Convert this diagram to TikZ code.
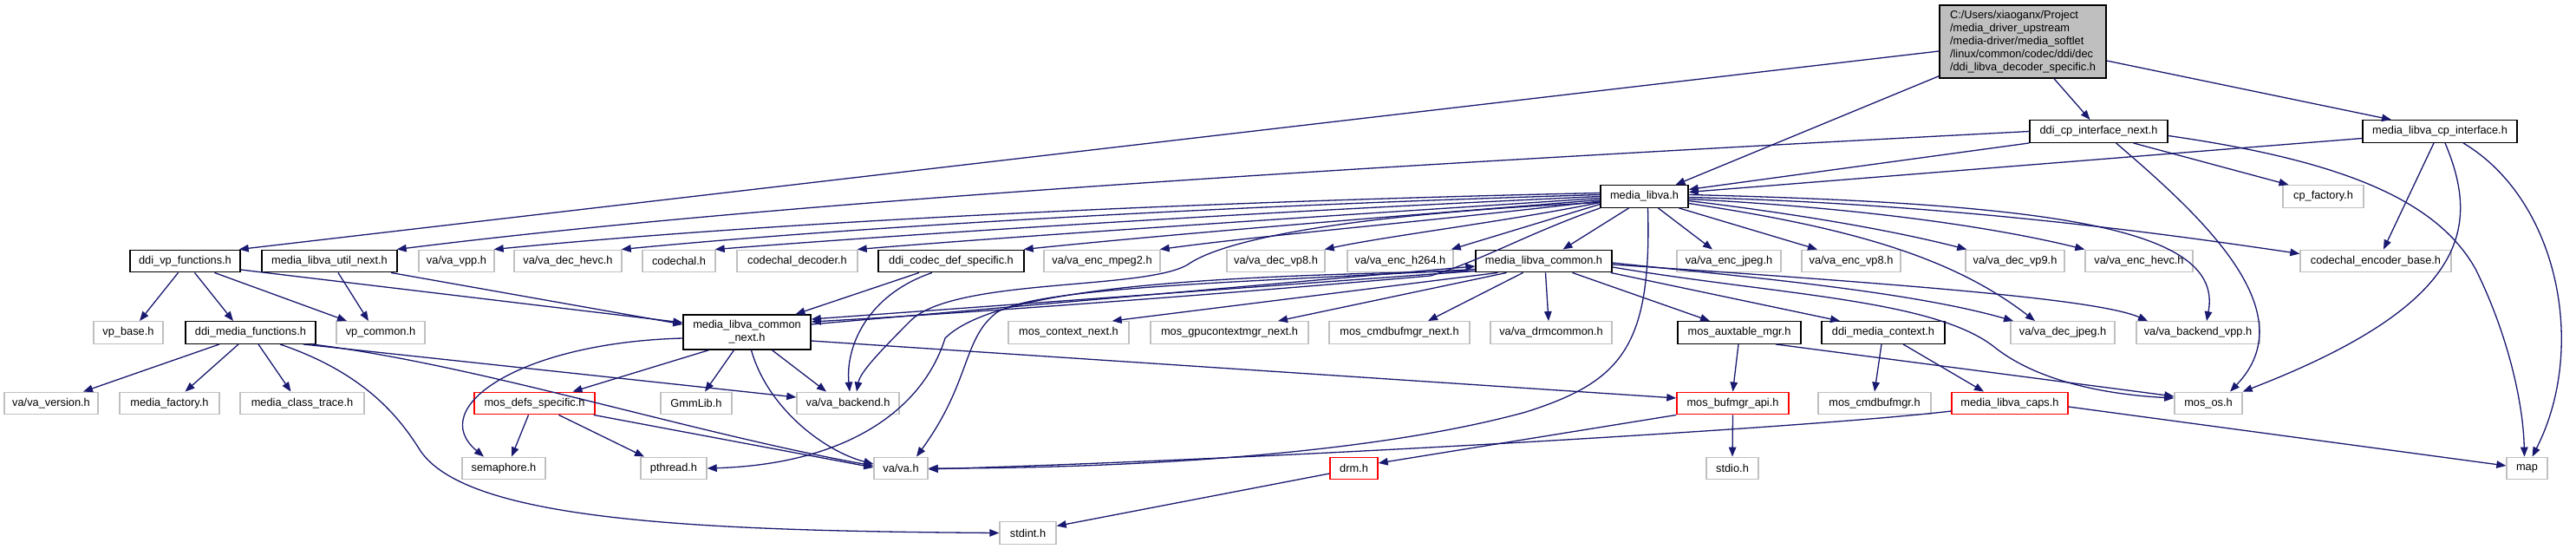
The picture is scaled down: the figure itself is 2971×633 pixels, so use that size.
\documentclass[tikz,border=0pt]{standalone}
\usepackage{fontspec}
\setmainfont{Liberation Sans}
\usetikzlibrary{arrows.meta}
\definecolor{edgec}{HTML}{191970}
\definecolor{greyc}{HTML}{C0C0C0}
\definecolor{redc}{HTML}{FF0000}
\definecolor{rootfill}{HTML}{BFBFBF}
\newcommand{\nodefont}{\fontsize{12.8bp}{14.85bp}\selectfont}
\begin{document}
\begin{tikzpicture}[x=1bp,y=-1bp,
  box/.style={rectangle, inner sep=0pt, minimum height=25.5bp, font=\nodefont, fill=white, line width=1.4bp},
  bk/.style={box, draw=black},
  gy/.style={box, draw=greyc},
  rd/.style={box, draw=redc},
  e/.style={draw=edgec, line width=1.3bp, -{Triangle[length=11bp,width=8.5bp]}},
]
\fill[white] (0,0) rectangle (2971,633);
\useasboundingbox (0,0) rectangle (2971,633);

% ---------- nodes ----------
\node[bk, fill=rootfill, minimum width=192bp, minimum height=84bp, align=left] (root) at (2333,48)
  {C:/Users/xiaoganx/Project\\/media\_driver\_upstream\\/media-driver/media\_softlet\\/linux/common/codec/ddi/dec\\/ddi\_libva\_decoder\_specific.h};
\node[bk, minimum width=159bp] (cpnext) at (2420.5,151.5) {ddi\_cp\_interface\_next.h};
\node[bk, minimum width=178bp] (cpif) at (2814,151.5) {media\_libva\_cp\_interface.h};
\node[bk, minimum width=101bp] (libva) at (1896.5,226.5) {media\_libva.h};
\node[gy, minimum width=93bp] (cpfactory) at (2679.5,226.5) {cp\_factory.h};

% row 3
\node[bk, minimum width=127bp] (vpfunc) at (213.5,301) {ddi\_vp\_functions.h};
\node[bk, minimum width=156bp] (utilnext) at (380,301) {media\_libva\_util\_next.h};
\node[gy, minimum width=87bp] (vavpp) at (526.5,301) {va/va\_vpp.h};
\node[gy, minimum width=124bp] (decHevc) at (655,301) {va/va\_dec\_hevc.h};
\node[gy, minimum width=84bp] (codechal) at (783,301) {codechal.h};
\node[gy, minimum width=139bp] (codecdec) at (919.5,301) {codechal\_decoder.h};
\node[bk, minimum width=168bp] (codecdef) at (1097,301) {ddi\_codec\_def\_specific.h};
\node[gy, minimum width=134bp] (encMpeg2) at (1271,301) {va/va\_enc\_mpeg2.h};
\node[gy, minimum width=113bp] (decVp8) at (1471.5,301) {va/va\_dec\_vp8.h};
\node[gy, minimum width=122bp] (encH264) at (1615,301) {va/va\_enc\_h264.h};
\node[bk, minimum width=157bp] (common) at (1780.5,301) {media\_libva\_common.h};
\node[gy, minimum width=120bp] (encJpeg) at (1994,301) {va/va\_enc\_jpeg.h};
\node[gy, minimum width=114bp] (encVp8) at (2135,301) {va/va\_enc\_vp8.h};
\node[gy, minimum width=114bp] (decVp9) at (2324,301) {va/va\_dec\_vp9.h};
\node[gy, minimum width=124bp] (encHevc) at (2467,301) {va/va\_enc\_hevc.h};
\node[gy, minimum width=174bp] (encbase) at (2740,301) {codechal\_encoder\_base.h};

% row 4
\node[gy, minimum width=80bp] (vpbase) at (148,383.5) {vp\_base.h};
\node[bk, minimum width=150bp] (mediafunc) at (289,383.5) {ddi\_media\_functions.h};
\node[gy, minimum width=102bp] (vpcommon) at (439,383.5) {vp\_common.h};
\node[bk, minimum width=147bp, minimum height=40bp, align=center] (commonnext) at (861.5,383) {media\_libva\_common\\\_next.h};
\node[gy, minimum width=139bp] (ctxnext) at (1232.5,383.5) {mos\_context\_next.h};
\node[gy, minimum width=182bp] (gpunext) at (1418,383.5) {mos\_gpucontextmgr\_next.h};
\node[gy, minimum width=162bp] (cmdnext) at (1614,383.5) {mos\_cmdbufmgr\_next.h};
\node[gy, minimum width=140bp] (drmcommon) at (1789,383.5) {va/va\_drmcommon.h};
\node[bk, minimum width=142bp] (auxtable) at (2006,383.5) {mos\_auxtable\_mgr.h};
\node[bk, minimum width=142bp] (mediactx) at (2172,383.5) {ddi\_media\_context.h};
\node[gy, minimum width=120bp] (decJpeg) at (2379,383.5) {va/va\_dec\_jpeg.h};
\node[gy, minimum width=142bp] (backendvpp) at (2535,383.5) {va/va\_backend\_vpp.h};

% row 5
\node[gy, minimum width=108bp] (vaversion) at (59,465) {va/va\_version.h};
\node[gy, minimum width=115bp] (factory) at (195.5,465) {media\_factory.h};
\node[gy, minimum width=143bp] (classtrace) at (348.5,465) {media\_class\_trace.h};
\node[rd, minimum width=139bp] (defsspec) at (616.5,465) {mos\_defs\_specific.h};
\node[gy, minimum width=82bp] (gmmlib) at (803,465) {GmmLib.h};
\node[gy, minimum width=118bp] (backend) at (978,465) {va/va\_backend.h};
\node[rd, minimum width=129bp] (bufmgr) at (1998.5,465) {mos\_bufmgr\_api.h};
\node[gy, minimum width=130bp] (cmdbuf) at (2162,465) {mos\_cmdbufmgr.h};
\node[rd, minimum width=134bp] (caps) at (2318,465) {media\_libva\_caps.h};
\node[gy, minimum width=78bp] (mosos) at (2547,465) {mos\_os.h};

% row 6
\node[gy, minimum width=96bp] (semaphore) at (581,540) {semaphore.h};
\node[gy, minimum width=76bp] (pthread) at (777,540) {pthread.h};
\node[gy, minimum width=62bp] (vah) at (1039,540) {va/va.h};
\node[rd, minimum width=55bp] (drm) at (1561.5,540) {drm.h};
\node[gy, minimum width=60bp] (stdio) at (1998,540) {stdio.h};
\node[gy, minimum width=47bp] (map) at (2914.5,540) {map};

% row 7
\node[gy, minimum width=65bp] (stdint) at (1185.5,614.5) {stdint.h};

% ---------- edges ----------
% root
\draw[e] ([yshift=-11bp]root.west) -- ([xshift=-2bp]vpfunc.north east);
\draw[e] ([yshift=3bp]root.south west) -- ([xshift=36bp]libva.north);
\draw[e] ([xshift=36bp]root.south) -- ([xshift=-10bp]cpnext.north);
\draw[e] ([yshift=-22bp]root.east) -- ([xshift=-56bp]cpif.north);

% ddi_cp_interface_next.h
\draw[e] (cpnext.south west) -- ([yshift=8bp]libva.east);
\draw[e] (cpnext.west) .. controls (1600,190) and (900,232) .. ([xshift=-1bp]utilnext.north east);
\draw[e] ([xshift=40bp]cpnext.south) -- ([xshift=-40bp]cpfactory.north);
\draw[e] ([xshift=20bp]cpnext.south) .. controls (2540,250) and (2660,360) .. ([xshift=25bp]mosos.north);
\draw[e] ([yshift=-5bp]cpnext.east) .. controls (2700,185) and (2810,230) .. (2855,310)
   .. controls (2890,380) and (2910,460) .. ([xshift=-3bp]map.north);

% media_libva_cp_interface.h
\draw[e] ([yshift=-8bp]cpif.west) -- ([yshift=5bp]libva.east);
\draw[e] ([xshift=-7bp]cpif.south) -- ([xshift=9bp]encbase.north);
\draw[e] ([xshift=6bp]cpif.south) .. controls (2860,260) and (2850,350) .. (mosos.north east);
\draw[e] ([xshift=27bp]cpif.south) .. controls (2950,230) and (2985,400) .. ([xshift=6bp]map.north);

% media_libva.h
\draw[e] ([yshift=4bp]libva.west) .. controls (1400,232) and (900,255) .. ([xshift=-1bp]vavpp.north east);
\draw[e] ([yshift=2bp]libva.west) .. controls (1450,236) and (1000,260) .. ([xshift=-1bp]decHevc.north east);
\draw[e] (libva.west) .. controls (1500,242) and (1100,266) .. ([xshift=-1bp]codechal.north east);
\draw[e] ([yshift=-2bp]libva.west) .. controls (1550,248) and (1200,270) .. ([xshift=-1bp]codecdec.north east);
\draw[e] ([yshift=-4bp]libva.west) .. controls (1600,250) and (1350,270) .. ([xshift=-1bp]codecdef.north east);
\draw[e] ([yshift=-5.5bp]libva.west) .. controls (1650,255) and (1450,272) .. ([xshift=-1bp]encMpeg2.north east);
\draw[e] ([yshift=-7bp]libva.west) .. controls (1740,255) and (1600,272) .. ([xshift=-1bp]decVp8.north east);
\draw[e] ([yshift=-9bp]libva.west) -- ([xshift=-3bp]encH264.north east);
\draw[e] ([xshift=-18bp]libva.south) -- ([xshift=22bp]common.north);
\draw[e] ([xshift=16bp]libva.south) -- ([xshift=-19bp]encJpeg.north);
\draw[e] ([xshift=40bp]libva.south) -- ([xshift=-39bp]encVp8.north);
\draw[e] ([yshift=-5bp]libva.east) .. controls (2100,250) and (2200,270) .. ([xshift=2bp]decVp9.north west);
\draw[e] ([yshift=-3bp]libva.east) .. controls (2150,240) and (2300,262) .. (encHevc.north west);
\draw[e] ([yshift=-1bp]libva.east) .. controls (2250,235) and (2500,270) .. ([yshift=-5bp]encbase.north west);
\draw[e] ([yshift=-8bp]libva.east) .. controls (2130,262) and (2250,295) .. ([xshift=-32bp]decJpeg.north);
\draw[e] ([yshift=2bp]libva.east) .. controls (2380,235) and (2565,265) .. ([xshift=10bp]backendvpp.north);
\draw[e] ([xshift=4bp]libva.south) .. controls (1905,400) and (1870,440) .. (1760,475)
   .. controls (1560,530) and (1250,540) .. (vah.east);
\draw[e] ([yshift=-7bp]libva.west) .. controls (1600,245) and (1420,270) .. (1370,305)
   .. controls (1320,335) and (1100,320) .. (1050,370)
   .. controls (1010,410) and (992,430) .. ([xshift=10bp]backend.north);
\draw[e] (libva.south west) .. controls (1760,270) and (1710,300) .. (1650,318)
   .. controls (1400,340) and (1100,362) .. ([yshift=12bp]commonnext.east);

% media_libva_common.h
\draw[e] ([yshift=2bp]common.south west) -- ([yshift=15bp]commonnext.east);
\draw[e] ([yshift=9bp]commonnext.east) -- ([yshift=-6bp]common.west);
\draw[e] ([xshift=-53bp]common.south) -- ([xshift=-20bp]ctxnext.north east);
\draw[e] ([xshift=-43bp]common.south) -- ([xshift=56bp]gpunext.north);
\draw[e] ([xshift=-24bp]common.south) -- ([xshift=33bp]cmdnext.north);
\draw[e] ([xshift=2bp]common.south) -- ([xshift=-3bp]drmcommon.north);
\draw[e] ([xshift=33bp]common.south) -- ([xshift=-34bp]auxtable.north);
\draw[e] ([xshift=-2bp]common.south east) -- ([xshift=-50bp]mediactx.north);
\draw[e] ([yshift=-2bp]common.east) .. controls (2000,318) and (2200,335) .. ([xshift=-57bp]decJpeg.north);
\draw[e] ([yshift=-4bp]common.east) .. controls (2200,328) and (2420,345) .. ([xshift=-58bp]backendvpp.north);
\draw[e] ([yshift=-7bp]common.east) .. controls (2050,340) and (2230,345) .. (2300,400)
   .. controls (2350,440) and (2430,455) .. ([yshift=6bp]mosos.west);
\draw[e] ([yshift=4bp]common.south west) .. controls (1450,325) and (1200,330) .. (1150,360)
   .. controls (1110,390) and (1120,440) .. ([xshift=18bp]vah.north);
\draw[e] ([yshift=2bp]common.south west) .. controls (1400,318) and (1150,330) .. (1090,390)
   .. controls (1065,470) and (980,535) .. (pthread.east);

% media_libva_common_next.h
\draw[e] ([yshift=-7bp]commonnext.west) .. controls (600,395) and (490,470) .. ([xshift=-23bp]semaphore.north);
\draw[e] ([xshift=-44bp]commonnext.south) -- ([xshift=44bp]defsspec.north);
\draw[e] ([xshift=-15bp]commonnext.south) -- ([xshift=10bp]gmmlib.north);
\draw[e] ([xshift=5bp]commonnext.south) .. controls (885,470) and (950,520) .. ([yshift=5bp]vah.west);
\draw[e] ([xshift=29bp]commonnext.south) -- ([xshift=-25bp]backend.north);
\draw[e] ([yshift=-10bp]commonnext.east) -- ([yshift=6bp]bufmgr.west);

% ddi_vp_functions.h
\draw[e] ([xshift=-8bp]vpfunc.south) -- ([xshift=13bp]vpbase.north);
\draw[e] ([xshift=11bp]vpfunc.south) -- ([xshift=-20bp]mediafunc.north);
\draw[e] ([xshift=34bp]vpfunc.south) -- ([xshift=-39bp]vpcommon.north);
\draw[e] ([yshift=-10bp]vpfunc.east) -- ([yshift=11bp]commonnext.west);

% media_libva_util_next.h
\draw[e] ([xshift=10bp]utilnext.south) -- ([xshift=-14bp]vpcommon.north);
\draw[e] ([xshift=71bp]utilnext.south) -- ([yshift=9bp]commonnext.west);

% ddi_codec_def_specific.h
\draw[e] ([xshift=-37bp]codecdef.south) -- ([xshift=56bp]commonnext.north);
\draw[e] ([xshift=-22bp]codecdef.south) .. controls (1000,340) and (975,400) .. ([xshift=2bp]backend.north);

% ddi_media_functions.h
\draw[e] ([xshift=-36bp]mediafunc.south) -- ([xshift=37bp]vaversion.north);
\draw[e] ([xshift=-14bp]mediafunc.south) -- ([xshift=18bp]factory.north);
\draw[e] ([xshift=9bp]mediafunc.south) -- ([xshift=-13bp]classtrace.north);
\draw[e] ([xshift=34bp]mediafunc.south) .. controls (420,430) and (460,480) .. (485,520)
   .. controls (540,600) and (800,612) .. (stdint.west);
\draw[e] ([xshift=-15bp]mediafunc.south east) -- ([yshift=7bp]backend.west);
\draw[e] ([xshift=-5bp]mediafunc.south east) .. controls (550,420) and (800,500) .. ([yshift=3bp]vah.west);

% mos_defs_specific.h
\draw[e] ([xshift=-7bp]defsspec.south) -- ([xshift=9bp]semaphore.north);
\draw[e] ([xshift=28bp]defsspec.south) -- ([xshift=-34bp]pthread.north);
\draw[e] ([xshift=-2bp]defsspec.south east) -- ([yshift=1bp]vah.west);

% mos_bufmgr_api.h, drm.h
\draw[e] (bufmgr.south west) -- ([yshift=6bp]drm.east);
\draw[e] (bufmgr.south) -- (stdio.north);
\draw[e] ([yshift=-6bp]drm.west) -- ([yshift=8bp]stdint.east);

% mos_auxtable_mgr.h
\draw[e] ([xshift=-1bp]auxtable.south) -- (bufmgr.north);
\draw[e] ([xshift=42bp]auxtable.south) -- ([yshift=8bp]mosos.west);

% ddi_media_context.h
\draw[e] ([xshift=-2bp]mediactx.south) -- (cmdbuf.north);
\draw[e] ([xshift=23bp]mediactx.south) -- ([xshift=-30bp]caps.north);

% media_libva_caps.h
\draw[e] ([yshift=-9bp]caps.west) .. controls (2100,492) and (1500,528) .. ([yshift=-1bp]vah.east);
\draw[e] ([yshift=-4bp]caps.east) -- ([yshift=3bp]map.west);
\end{tikzpicture}
\end{document}
